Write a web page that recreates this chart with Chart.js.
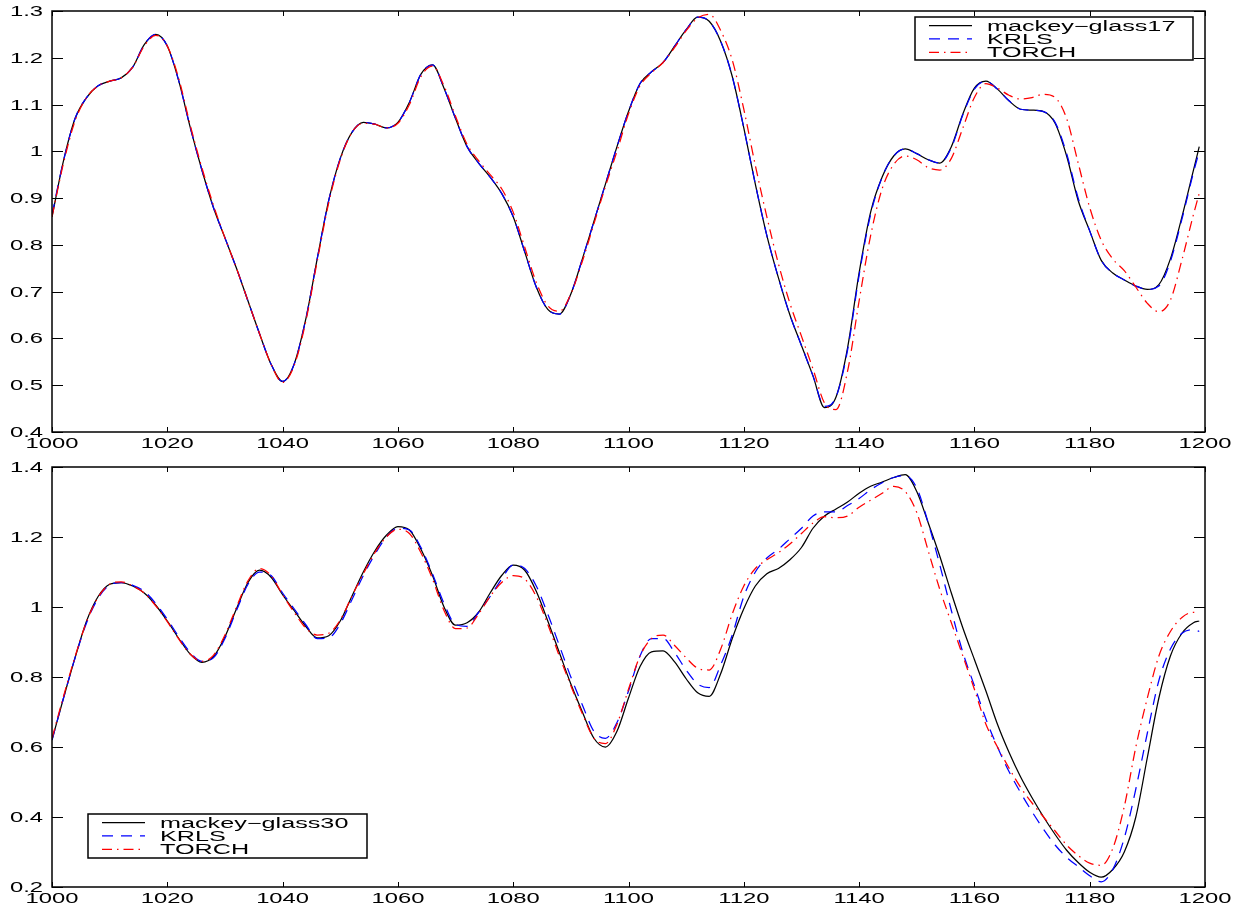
<!DOCTYPE html>
<html>
<head>
<meta charset="utf-8">
<script src="https://cdn.jsdelivr.net/npm/chart.js@4/dist/chart.umd.min.js"></script>
<style>
  body { margin: 0; background: #fff; }
  .panel { position: absolute; left: 0; width: 1252px; height: 455px; }
</style>
</head>
<body>
<div class="panel" style="top:0"><canvas id="topChart"></canvas></div>
<div class="panel" style="top:455px"><canvas id="bottomChart"></canvas></div>
<script>
// time steps (shared by both panels)
const steps = [
  1000, 1002, 1004, 1006, 1008, 1010, 1012, 1014, 1016, 1018,
  1020, 1022, 1024, 1026, 1028, 1030, 1032, 1034, 1036, 1038,
  1040, 1042, 1044, 1046, 1048, 1050, 1052, 1054, 1056, 1058,
  1060, 1062, 1064, 1066, 1068, 1070, 1072, 1074, 1076, 1078,
  1080, 1082, 1084, 1086, 1088, 1090, 1092, 1094, 1096, 1098,
  1100, 1102, 1104, 1106, 1108, 1110, 1112, 1114, 1116, 1118,
  1120, 1122, 1124, 1126, 1128, 1130, 1132, 1134, 1136, 1138,
  1140, 1142, 1144, 1146, 1148, 1150, 1152, 1154, 1156, 1158,
  1160, 1162, 1164, 1166, 1168, 1170, 1172, 1174, 1176, 1178,
  1180, 1182, 1184, 1186, 1188, 1190, 1192, 1194, 1196, 1198,
  1199
];

// top panel: mackey-glass17
const mg17 = [
  0.86, 0.98, 1.07, 1.115, 1.14, 1.15, 1.157, 1.18, 1.228, 1.25,
  1.225, 1.15, 1.05, 0.96, 0.88, 0.815, 0.75, 0.68, 0.61, 0.545,
  0.508, 0.545, 0.64, 0.77, 0.895, 0.985, 1.04, 1.062, 1.058, 1.05,
  1.062, 1.105, 1.165, 1.185, 1.135, 1.07, 1.01, 0.975, 0.945, 0.91,
  0.86, 0.785, 0.71, 0.662, 0.652, 0.695, 0.77, 0.85, 0.93, 1.01,
  1.085, 1.145, 1.17, 1.19, 1.225, 1.26, 1.287, 1.278, 1.235, 1.16,
  1.05, 0.93, 0.82, 0.73, 0.65, 0.585, 0.52, 0.452, 0.475, 0.58,
  0.74, 0.87, 0.945, 0.99, 1.005, 0.995, 0.982, 0.975, 1.01, 1.08,
  1.135, 1.15, 1.133, 1.108, 1.09, 1.088, 1.085, 1.06, 0.99, 0.895,
  0.83, 0.767, 0.74, 0.725, 0.712, 0.705, 0.715, 0.77, 0.86, 0.96,
  1.01
];
const krls17 = [
  0.865, 0.98, 1.07, 1.115, 1.14, 1.15, 1.157, 1.18, 1.228, 1.25,
  1.225, 1.15, 1.05, 0.96, 0.88, 0.815, 0.75, 0.68, 0.61, 0.545,
  0.508, 0.545, 0.64, 0.77, 0.895, 0.985, 1.04, 1.062, 1.058, 1.05,
  1.062, 1.105, 1.165, 1.185, 1.135, 1.07, 1.01, 0.975, 0.945, 0.91,
  0.86, 0.785, 0.71, 0.662, 0.652, 0.695, 0.77, 0.85, 0.93, 1.01,
  1.085, 1.145, 1.17, 1.19, 1.225, 1.26, 1.287, 1.278, 1.235, 1.16,
  1.05, 0.93, 0.82, 0.73, 0.65, 0.585, 0.52, 0.455, 0.475, 0.575,
  0.735, 0.865, 0.945, 0.99, 1.005, 0.995, 0.982, 0.975, 1.008, 1.078,
  1.133, 1.15, 1.133, 1.108, 1.09, 1.088, 1.085, 1.062, 0.995, 0.9,
  0.83, 0.767, 0.74, 0.725, 0.712, 0.705, 0.712, 0.765, 0.855, 0.955,
  1.0
];
const torch17 = [
  0.86, 0.975, 1.065, 1.115, 1.14, 1.15, 1.157, 1.18, 1.225, 1.248,
  1.225, 1.155, 1.055, 0.965, 0.885, 0.815, 0.75, 0.68, 0.61, 0.545,
  0.506, 0.542, 0.635, 0.765, 0.89, 0.982, 1.04, 1.06, 1.058, 1.05,
  1.06, 1.1, 1.16, 1.182, 1.14, 1.075, 1.015, 0.98, 0.95, 0.92,
  0.87, 0.795, 0.72, 0.67, 0.658, 0.695, 0.765, 0.845, 0.925, 1.0,
  1.08, 1.14, 1.168, 1.19, 1.222, 1.258, 1.285, 1.293, 1.258, 1.195,
  1.09, 0.97, 0.86, 0.76, 0.675, 0.605, 0.535, 0.462, 0.448, 0.53,
  0.68, 0.82, 0.92, 0.972, 0.99, 0.982, 0.965, 0.96, 0.985, 1.05,
  1.115, 1.145, 1.135, 1.12, 1.112, 1.115, 1.122, 1.115, 1.07, 0.975,
  0.88, 0.81, 0.77, 0.745, 0.71, 0.675, 0.657, 0.682, 0.768, 0.865,
  0.91
];

// bottom panel: mackey-glass30
const mg30 = [
  0.62, 0.74, 0.855, 0.96, 1.03, 1.065, 1.07, 1.06, 1.04, 1.005,
  0.96, 0.91, 0.865, 0.842, 0.858, 0.915, 0.995, 1.07, 1.105, 1.085,
  1.035, 0.99, 0.945, 0.912, 0.918, 0.96, 1.03, 1.1, 1.16, 1.205,
  1.23, 1.22, 1.165, 1.09, 1.0, 0.948, 0.955, 0.985, 1.04, 1.09,
  1.12, 1.105, 1.045, 0.96, 0.87, 0.78, 0.7, 0.625, 0.6, 0.645,
  0.74, 0.83, 0.872, 0.875, 0.843, 0.795, 0.755, 0.745, 0.81, 0.91,
  0.995, 1.06, 1.095, 1.11, 1.135, 1.17, 1.225, 1.26, 1.28, 1.3,
  1.325, 1.345, 1.357, 1.37, 1.378, 1.33, 1.24, 1.145, 1.04, 0.94,
  0.85, 0.76, 0.665, 0.585, 0.515, 0.455, 0.4, 0.35, 0.305, 0.27,
  0.242, 0.228, 0.25, 0.3, 0.4, 0.57, 0.74, 0.86, 0.925, 0.955,
  0.96
];
const krls30 = [
  0.62, 0.74, 0.855, 0.955, 1.025, 1.063, 1.07, 1.062, 1.045, 1.01,
  0.965, 0.915, 0.87, 0.845, 0.855, 0.91, 0.99, 1.065, 1.1, 1.09,
  1.04, 0.995, 0.95, 0.91, 0.912, 0.952, 1.02, 1.09, 1.15, 1.2,
  1.225, 1.22, 1.17, 1.095, 1.01, 0.95, 0.945, 0.985, 1.03, 1.08,
  1.12, 1.11, 1.06, 0.98, 0.89, 0.8, 0.72, 0.645, 0.625, 0.67,
  0.76, 0.86, 0.91, 0.91, 0.87, 0.82, 0.78, 0.77, 0.835, 0.92,
  1.03, 1.1, 1.14, 1.165, 1.195, 1.225, 1.26, 1.272, 1.272, 1.29,
  1.31, 1.335, 1.355, 1.37, 1.375, 1.34, 1.24, 1.12, 0.99, 0.87,
  0.775, 0.68, 0.6, 0.53, 0.47, 0.415, 0.365, 0.32, 0.285, 0.258,
  0.232, 0.215, 0.25, 0.34, 0.48, 0.64, 0.79, 0.88, 0.925, 0.935,
  0.93
];
const torch30 = [
  0.625, 0.745, 0.858, 0.958, 1.028, 1.065, 1.072, 1.06, 1.04, 1.003,
  0.958, 0.908, 0.865, 0.845, 0.862, 0.92, 1.0, 1.075, 1.11, 1.09,
  1.035, 0.985, 0.94, 0.92, 0.925, 0.963, 1.03, 1.095, 1.155, 1.2,
  1.222, 1.21, 1.155, 1.08, 0.99, 0.938, 0.94, 0.98, 1.03, 1.07,
  1.09, 1.08, 1.03, 0.95, 0.86, 0.775, 0.695, 0.625, 0.61, 0.665,
  0.765, 0.86, 0.91, 0.92, 0.89, 0.855, 0.825, 0.82, 0.88, 0.98,
  1.06, 1.11, 1.135, 1.155, 1.18, 1.21, 1.24, 1.258, 1.255, 1.26,
  1.285, 1.305, 1.325, 1.345, 1.33, 1.27, 1.16, 1.05, 0.955, 0.86,
  0.765, 0.665, 0.6, 0.54, 0.485, 0.44, 0.4, 0.36, 0.32, 0.29,
  0.268, 0.262, 0.31, 0.43, 0.6, 0.74, 0.86, 0.93, 0.97, 0.985,
  0.982
];

const FONT = '14px "Liberation Sans", Arial, sans-serif';

// the original figure was stretched sideways, so text is drawn wide
function wideText(ctx, str, x, y, align, sx) {
  ctx.save();
  ctx.translate(x, y);
  ctx.scale(sx, 1);
  ctx.textAlign = align;
  ctx.textBaseline = "alphabetic";
  ctx.fillText(str, 0, 0);
  ctx.restore();
}

function fmtTick(v) {
  return String(Number(v.toFixed(2)));
}

// matlab style box: inward ticks on all four sides + labels
const framePlugin = {
  id: "matlabFrame",
  afterDatasetsDraw(chart) {
    const { ctx, chartArea: a } = chart;
    const x = chart.scales.x, y = chart.scales.y;
    ctx.save();
    ctx.strokeStyle = "#000";
    ctx.lineWidth = 1;
    ctx.beginPath();
    x.ticks.forEach((t) => {
      const px = Math.round(x.getPixelForValue(t.value)) + 0.5;
      ctx.moveTo(px, a.bottom); ctx.lineTo(px, a.bottom - 5);
      ctx.moveTo(px, a.top); ctx.lineTo(px, a.top + 5);
    });
    y.ticks.forEach((t) => {
      const py = Math.round(y.getPixelForValue(t.value)) + 0.5;
      ctx.moveTo(a.left, py); ctx.lineTo(a.left + 11, py);
      ctx.moveTo(a.right, py); ctx.lineTo(a.right - 11, py);
    });
    ctx.stroke();
    ctx.lineWidth = 1.5;
    ctx.strokeRect(a.left, a.top, a.right - a.left, a.bottom - a.top);

    ctx.fillStyle = "#000";
    ctx.font = FONT;
    x.ticks.forEach((t) => {
      wideText(ctx, fmtTick(t.value), x.getPixelForValue(t.value), a.bottom + 16, "center", 1.7);
    });
    y.ticks.forEach((t) => {
      wideText(ctx, fmtTick(t.value), a.left - 9, y.getPixelForValue(t.value) + 5, "right", 1.7);
    });
    ctx.restore();
  },
};

// legend box placed inside the axes
const boxLegendPlugin = {
  id: "boxLegend",
  afterDraw(chart, args, opts) {
    const { ctx, chartArea: a } = chart;
    const left = opts.fromRight ? a.right - opts.dx - opts.w : a.left + opts.dx;
    const top = opts.fromBottom ? a.bottom - opts.dy - opts.h : a.top + opts.dy;
    ctx.save();
    ctx.fillStyle = "#fff";
    ctx.fillRect(left, top, opts.w, opts.h);
    ctx.strokeStyle = "#000";
    ctx.lineWidth = 1.5;
    ctx.strokeRect(left, top, opts.w, opts.h);
    ctx.font = FONT;
    chart.data.datasets.forEach((ds, i) => {
      const rowY = top + 8.5 + i * 13.4;
      ctx.strokeStyle = ds.borderColor;
      ctx.lineWidth = ds.borderWidth;
      ctx.setLineDash(ds.borderDash || []);
      ctx.beginPath();
      ctx.moveTo(left + 14, rowY);
      ctx.lineTo(left + 57, rowY);
      ctx.stroke();
      ctx.setLineDash([]);
      ctx.fillStyle = "#000";
      wideText(ctx, ds.label, left + 72, rowY + 5, "left", 1.8);
    });
    ctx.restore();
  },
};

function series(label, vals, color, dash, order) {
  return {
    label: label,
    data: steps.map((t, i) => ({ x: t, y: vals[i] })),
    borderColor: color,
    borderWidth: 1.25,
    borderDash: dash,
    pointRadius: 0,
    fill: false,
    cubicInterpolationMode: "monotone",
    order: order,
  };
}

function makeChart(id, datasets, yMin, yMax, yStep, padTop, legendOpts) {
  return new Chart(document.getElementById(id), {
    type: "line",
    data: { datasets: datasets },
    options: {
      responsive: true,
      maintainAspectRatio: false,
      animation: false,
      layout: { padding: { left: 52, right: 47, top: padTop, bottom: 23 } },
      scales: {
        x: {
          type: "linear",
          min: 1000,
          max: 1200,
          ticks: { stepSize: 20, display: false },
          grid: { display: false },
          border: { display: false },
          afterFit: (s) => { s.height = 0; },
        },
        y: {
          min: yMin,
          max: yMax,
          ticks: { stepSize: yStep, display: false },
          grid: { display: false },
          border: { display: false },
          afterFit: (s) => { s.width = 0; },
        },
      },
      plugins: {
        legend: { display: false },
        tooltip: { enabled: false },
        boxLegend: legendOpts,
      },
    },
    plugins: [framePlugin, boxLegendPlugin],
  });
}

makeChart("topChart", [
  series("mackey\u2212glass17", mg17, "#000000", [], 2),
  series("KRLS", krls17, "#0000ff", [11, 8], 1),
  series("TORCH", torch17, "#ff0000", [10, 5, 1.5, 5], 0),
], 0.4, 1.3, 0.1, 11, { fromRight: true, dx: 12, dy: 6, w: 278, h: 43 });

makeChart("bottomChart", [
  series("mackey\u2212glass30", mg30, "#000000", [], 2),
  series("KRLS", krls30, "#0000ff", [11, 8], 1),
  series("TORCH", torch30, "#ff0000", [10, 5, 1.5, 5], 0),
], 0.2, 1.4, 0.2, 12, { fromBottom: true, dx: 36, dy: 29, w: 279, h: 44 });
</script>
</body>
</html>
